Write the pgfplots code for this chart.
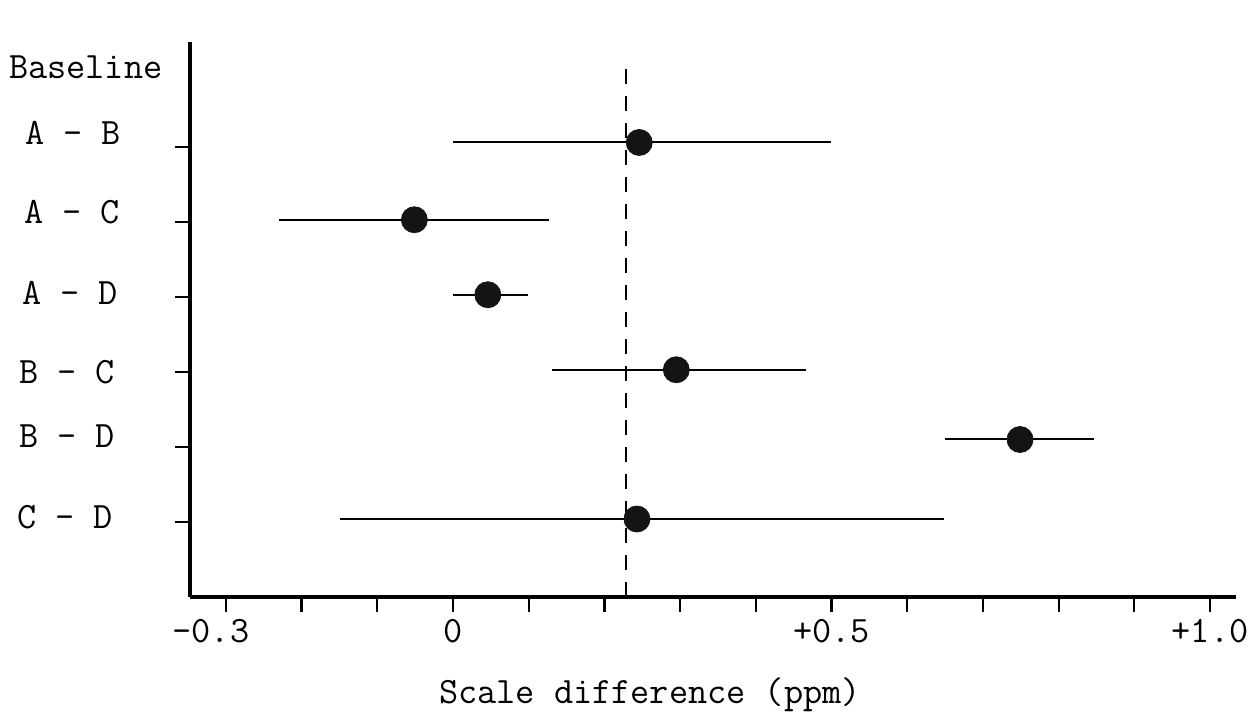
\documentclass[border=0pt]{standalone}
\usepackage{pgfplots}
\pgfplotsset{compat=1.18}
\usepackage{fontspec}
\newcommand{\tw}{\ttfamily\fontsize{18.6}{22}\selectfont}
\begin{document}
\begin{tikzpicture}
\begin{axis}[
  scale only axis,
  width=523pt, height=277.5pt,
  xmin=-0.3474, xmax=1.0343,
  ymin=0, ymax=7.4,
  axis lines=left,
  axis line style={-, line width=1.6pt},
  tick align=outside,
  major tick length=7.5pt,
  tick style={line width=1.1pt, black},
  xtick={-0.3,-0.2,-0.1,0,0.1,0.2,0.3,0.4,0.5,0.6,0.7,0.8,0.9,1.0},
  xticklabels={{-0.3\kern15pt},,,0,,,,,+0.5,,,,,+1.0},
  ytick={1,2,3,4,5,6},
  yticklabels={},
  tick label style={font=\tw},
  clip=false,
]
% reference (dashed) line
\addplot[black, line width=1pt, dash pattern=on 7.5pt off 6pt] coordinates {(0.228,0) (0.228,7.09)};
% estimates with asymmetric error ranges
\addplot[only marks, mark=*, mark size=6.5pt, mark options={fill=black!92, draw=black!92},
  error bars/.cd, x dir=both, x explicit, error mark=none,
  error bar style={line width=1pt, black}]
coordinates {
  (0.246,6.06) += (0.253,0) -= (0.246,0)
  (-0.051,5.03) += (0.178,0) -= (0.179,0)
  (0.046,4.03) += (0.053,0) -= (0.046,0)
  (0.295,3.03) += (0.171,0) -= (0.164,0)
  (0.749,2.10) += (0.098,0) -= (0.099,0)
  (0.243,1.04) += (0.406,0) -= (0.392,0)
};
\node[anchor=west, xshift=-94pt, font=\tw] at (axis cs:-0.3474,7.06) {Baseline};
\node[anchor=west, xshift=-86pt, font=\tw] at (axis cs:-0.3474,6.19) {A - B};
\node[anchor=west, xshift=-86.5pt, font=\tw] at (axis cs:-0.3474,5.13) {A - C};
\node[anchor=west, xshift=-87.5pt, font=\tw] at (axis cs:-0.3474,4.06) {A - D};
\node[anchor=west, xshift=-89pt, font=\tw] at (axis cs:-0.3474,3.00) {B - C};
\node[anchor=west, xshift=-89pt, font=\tw] at (axis cs:-0.3474,2.15) {B - D};
\node[anchor=west, xshift=-90pt, font=\tw] at (axis cs:-0.3474,1.07) {C - D};
\node[font=\tw, xshift=-31.5pt, yshift=-49pt] at (rel axis cs:0.5,0) {Scale difference (ppm)};
\coordinate (bl) at (rel axis cs:0,0);
\coordinate (tr) at (rel axis cs:1,1);
\end{axis}
\pgfresetboundingbox
\path ([xshift=-95pt,yshift=-57.5pt]bl) rectangle ([xshift=8.5pt,yshift=21pt]tr);
\end{tikzpicture}
\end{document}
